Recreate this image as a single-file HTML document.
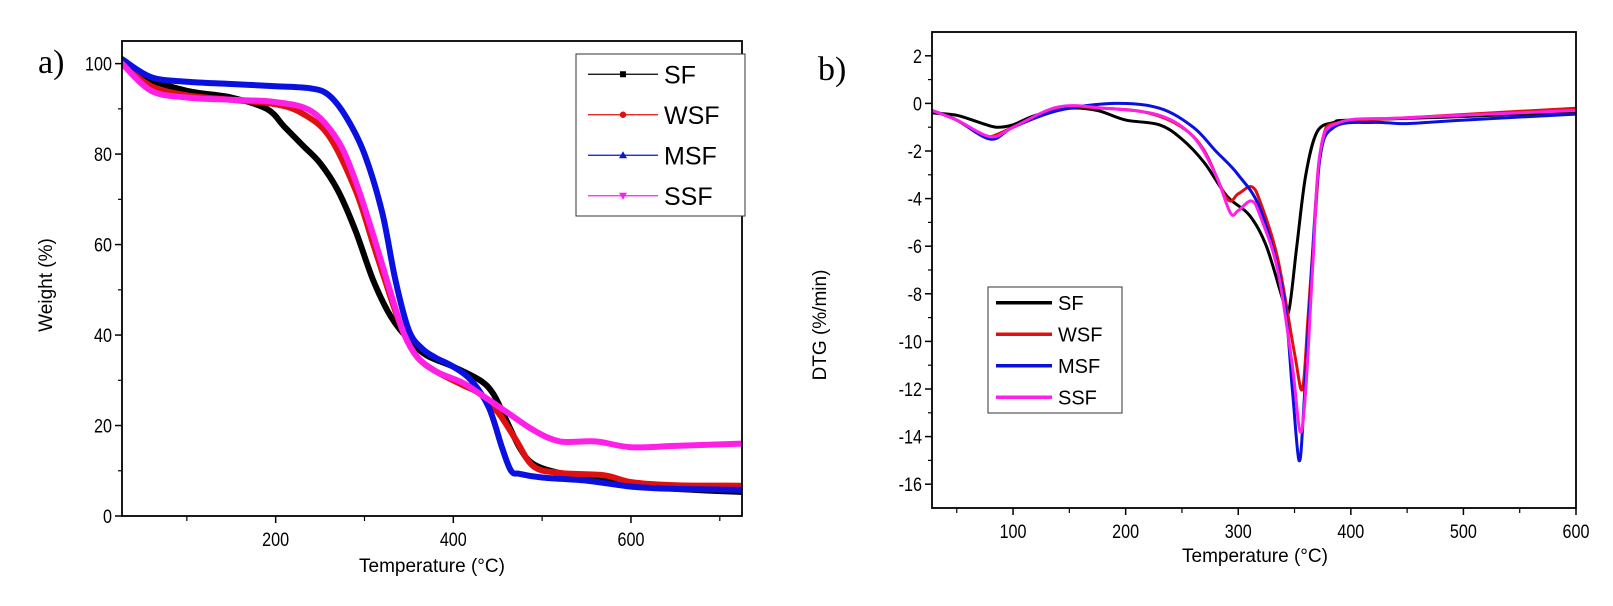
<!DOCTYPE html>
<html><head><meta charset="utf-8"><style>
body{margin:0;background:#fff;}
svg{display:block;font-family:"Liberation Sans",sans-serif;}
</style></head><body>
<svg id="s" width="1613" height="606">
<text x="38" y="73" font-family="Liberation Serif" font-size="34">a)</text>
<text x="818" y="80" font-family="Liberation Serif" font-size="34">b)</text>
</svg>
<script>
const NS='http://www.w3.org/2000/svg';
const svg=document.getElementById('s');
function mk(t,a,p){const e=document.createElementNS(NS,t);for(const k in a)e.setAttribute(k,a[k]);(p||svg).appendChild(e);return e;}

// ---- Panel a data (TGA) ----
const aColors=['#000000','#e01010','#0a10e0','#ff20e8'];
const aSF_T=[27,50,100,150,190,210,230,250,270,290,310,330,350,370,400,430,445,460,475,490,520,560,600,650,725];
const aSF_W=[100,97,94,92.5,90,86,82,78,72,63,52,44,39,35.5,33,30,27,21,15,11.5,9.5,8.5,7,6,5.3];
const aWSF_T=[27,60,100,150,200,230,260,290,310,330,345,360,380,410,430,450,470,490,520,570,600,650,725];
const aWSF_W=[100,95,93,92,91,89,84,72,60,48,40,35,32,29,27,23,17,11,9.5,9,7.5,6.8,6.7];
const aMSF_T=[27,60,100,150,200,240,260,280,300,320,335,350,365,380,400,420,440,455,465,475,500,550,600,650,725];
const aMSF_W=[101,97,96,95.5,95,94.5,93,88,80,67,52,41,37,35,33,30,24,15,10,9.3,8.5,7.8,6.5,6,5.8];
const aSSF_T=[27,60,100,150,200,240,270,290,310,330,345,360,380,410,430,460,490,520,560,600,650,725];
const aSSF_W=[100,94,92.5,92,91.5,89.5,83,74,62,49,40,35,32,29.5,27,23,19,16.5,16.5,15.2,15.5,16];
const aYTicks=[0,20,40,60,80,100];
const aXTicks=[200,400,600];

// ---- Panel b data (DTG) ----
const bSF_T=[28,50,70,85,100,120,150,175,200,230,250,270,290,310,325,340,345,352,360,370,385,400,500,600];
const bSF_V=[-0.4,-0.5,-0.8,-1.0,-0.9,-0.5,-0.2,-0.3,-0.7,-0.9,-1.5,-2.5,-3.9,-4.7,-6,-8.3,-8.7,-6,-3,-1.2,-0.8,-0.7,-0.55,-0.35];
const bWSF_T=[28,50,70,80,100,140,180,220,250,270,290,300,312,320,335,350,357,362,368,375,390,450,600];
const bWSF_V=[-0.3,-0.7,-1.3,-1.4,-1.0,-0.2,-0.2,-0.4,-1.0,-2.0,-4.0,-3.8,-3.5,-4.2,-6.5,-10.5,-12.0,-9,-5,-1.5,-0.8,-0.6,-0.2];
const bMSF_T=[28,50,80,100,140,190,230,260,280,300,320,340,348,354,358,364,372,385,420,450,500,600];
const bMSF_V=[-0.3,-0.7,-1.5,-1.0,-0.3,0.0,-0.2,-1.0,-2.0,-3.0,-4.5,-8,-12,-15.0,-13,-8,-2.5,-1.0,-0.8,-0.85,-0.7,-0.45];
const bSSF_T=[28,50,80,100,140,180,230,260,280,293,300,312,320,335,348,355,360,366,373,390,450,600];
const bSSF_V=[-0.3,-0.7,-1.4,-1.0,-0.15,-0.2,-0.5,-1.4,-3.0,-4.6,-4.5,-4.1,-4.8,-7,-11,-13.8,-12,-7,-2,-0.8,-0.6,-0.3];
const bYTicks=[2,0,-2,-4,-6,-8,-10,-12,-14,-16];
const bXTicks=[100,200,300,400,500,600];

function smooth(P){
  let d='M'+P[0][0].toFixed(1)+' '+P[0][1].toFixed(1);
  for(let i=0;i<P.length-1;i++){
    const p0=P[Math.max(i-1,0)],p1=P[i],p2=P[i+1],p3=P[Math.min(i+2,P.length-1)];
    const c1=[p1[0]+(p2[0]-p0[0])/6,p1[1]+(p2[1]-p0[1])/6];
    const c2=[p2[0]-(p3[0]-p1[0])/6,p2[1]-(p3[1]-p1[1])/6];
    d+=` C${c1[0].toFixed(1)} ${c1[1].toFixed(1)} ${c2[0].toFixed(1)} ${c2[1].toFixed(1)} ${p2[0].toFixed(1)} ${p2[1].toFixed(1)}`;
  }
  return d;
}
function marker(g,type,x,y,c){
  if(type==='sq')mk('rect',{x:x-3,y:y-3,width:6,height:6,fill:c},g);
  else if(type==='ci')mk('circle',{cx:x,cy:y,r:3.2,fill:c},g);
  else if(type==='tu')mk('polygon',{points:`${x},${y-4} ${x-4},${y+3} ${x+4},${y+3}`,fill:c},g);
  else mk('polygon',{points:`${x},${y+4} ${x-4},${y-3} ${x+4},${y-3}`,fill:c},g);
}
function panel(o){
  const g=mk('g',{});
  
  
  const xs=v=>o.L+(v-o.x0)/(o.x1-o.x0)*(o.R-o.L);
  const ys=v=>o.B-(v-o.y0)/(o.y1-o.y0)*(o.B-o.T);
  const cp=mk('clipPath',{id:o.name+'-clip'},g);
  mk('rect',{x:o.L,y:o.T,width:o.R-o.L,height:o.B-o.T},cp);
  const sg=mk('g',{'clip-path':`url(#${o.name}-clip)`},g);
  o.series.forEach((s,i)=>{
    const d=smooth(s.t.map((t,j)=>[xs(t),ys(s.v[j])]));
    const p=mk('path',{d:d,fill:'none',stroke:o.colors[i],'stroke-width':o.lw,'stroke-linejoin':'round','stroke-linecap':'round'},sg);
    
    
  });
  const f=mk('rect',{x:o.L,y:o.T,width:o.R-o.L,height:o.B-o.T,fill:'none',stroke:'#000','stroke-width':1.8},g);
  
  
  o.yt.forEach(v=>{
    mk('line',{x1:o.L-7,x2:o.L,y1:ys(v),y2:ys(v),stroke:'#000','stroke-width':1.5},g);
    const t=mk('text',{x:o.L-10,y:ys(v)+7,'text-anchor':'end','font-size':19,transform:`translate(${o.L-10},0) scale(0.85,1) translate(${-(o.L-10)},0)`},g);t.textContent=v;
    
    
  });
  o.ym.forEach(v=>mk('line',{x1:o.L-4,x2:o.L,y1:ys(v),y2:ys(v),stroke:'#000','stroke-width':1.2},g));
  o.xt.forEach(v=>{
    mk('line',{x1:xs(v),x2:xs(v),y1:o.B,y2:o.B+7,stroke:'#000','stroke-width':1.5},g);
    const t=mk('text',{x:xs(v),y:o.B+30,'text-anchor':'middle','font-size':19,transform:`translate(${xs(v)},0) scale(0.85,1) translate(${-xs(v)},0)`},g);t.textContent=v;
    
    
  });
  o.xm.forEach(v=>mk('line',{x1:xs(v),x2:xs(v),y1:o.B,y2:o.B+5,stroke:'#000','stroke-width':1.2},g));
  const xt=mk('text',{x:o.xtx,y:o.xty,'text-anchor':'middle','font-size':19},g);xt.textContent='Temperature (°C)';
  
  
  const yt=mk('text',{x:0,y:0,'text-anchor':'middle','font-size':19,transform:`translate(${o.ytx},${o.yty}) rotate(-90)`},g);yt.textContent=o.ytitle;
  
  
  const lg=mk('g',{},g);
  
  
  mk('rect',{x:o.lx,y:o.ly,width:o.lw2,height:o.lh,fill:'#fff',stroke:'#333','stroke-width':1},lg);
  const mks=['sq','ci','tu','td'];
  o.series.forEach((s,i)=>{
    const yy=o.ly+o.lh/8+i*o.lh/4;
    const e=mk('g',{},lg);
    
    
    mk('line',{x1:o.lx+o.lp,x2:o.lx+o.lp+o.ll,y1:yy,y2:yy,stroke:o.colors[i],'stroke-width':o.legw},e);
    if(o.mark)marker(e,mks[i],o.lx+o.lp+o.ll/2,yy,o.colors[i]);
    const t=mk('text',{x:o.lx+o.lp+o.ll+6,y:yy+o.fs*0.36,'font-size':o.fs},e);t.textContent=s.n;
  });
}
panel({name:'tga-chart',L:122,R:742,T:41,B:516,x0:27,x1:725,y0:0,y1:105,lw:6,
  colors:aColors,series:[{n:'SF',t:aSF_T,v:aSF_W},{n:'WSF',t:aWSF_T,v:aWSF_W},{n:'MSF',t:aMSF_T,v:aMSF_W},{n:'SSF',t:aSSF_T,v:aSSF_W}],
  yt:aYTicks,ym:[10,30,50,70,90],xt:aXTicks,xm:[100,300,500,700],
  xtx:432,xty:572,ytx:52,yty:285,ytitle:'Weight (%)',
  lx:576,ly:54,lw2:169,lh:162,lp:12,ll:70,legw:1.2,mark:true,fs:25});
panel({name:'dtg-chart',L:932,R:1576,T:32,B:508,x0:28,x1:600,y0:-17,y1:3,lw:3,
  colors:aColors,series:[{n:'SF',t:bSF_T,v:bSF_V},{n:'WSF',t:bWSF_T,v:bWSF_V},{n:'MSF',t:bMSF_T,v:bMSF_V},{n:'SSF',t:bSSF_T,v:bSSF_V}],
  yt:bYTicks,ym:[1,-1,-3,-5,-7,-9,-11,-13,-15],xt:bXTicks,xm:[50,150,250,350,450,550],
  xtx:1255,xty:562,ytx:826,yty:325,ytitle:'DTG (%/min)',
  lx:988,ly:287,lw2:134,lh:126,lp:8,ll:56,legw:3.5,mark:false,fs:20});
</script>
</body></html>
